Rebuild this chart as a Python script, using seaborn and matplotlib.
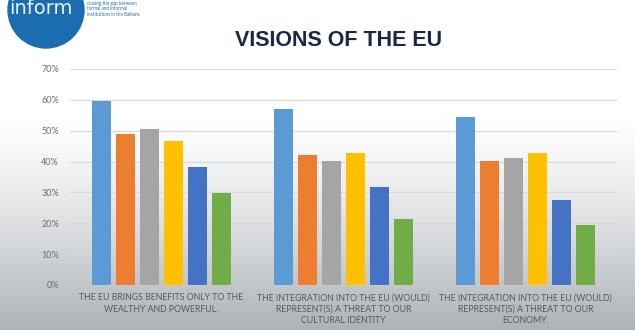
import numpy as np
import pandas as pd
import matplotlib
matplotlib.use("Agg")
import matplotlib.pyplot as plt
from matplotlib.patches import Circle
from matplotlib.ticker import PercentFormatter
import seaborn as sns

# Statements (x categories)
statements = [
    "THE EU BRINGS BENEFITS ONLY TO THE\nWEALTHY AND POWERFUL.",
    "THE INTEGRATION INTO THE EU (WOULD)\nREPRESENT(S) A THREAT TO OUR\nCULTURAL IDENTITY",
    "THE INTEGRATION INTO THE EU (WOULD)\nREPRESENT(S) A THREAT TO OUR\nECONOMY.",
]

# Share agreeing, per country
albania = [0.595, 0.570, 0.545]
bosnia = [0.490, 0.421, 0.402]
kosovo = [0.507, 0.402, 0.410]
macedonia = [0.468, 0.427, 0.427]
montenegro = [0.383, 0.319, 0.274]
serbia = [0.299, 0.215, 0.195]

countries = ["Albania", "Bosnia and Herzegovina", "Kosovo",
             "Macedonia", "Montenegro", "Serbia"]
series = [albania, bosnia, kosovo, macedonia, montenegro, serbia]
colors = ["#5B9BD5", "#ED7D31", "#A5A5A5", "#FFC000", "#4472C4", "#70AD47"]

yticks = [0, 0.1, 0.2, 0.3, 0.4, 0.5, 0.6, 0.7]

df = pd.DataFrame({
    "statement": [s for _ in countries for s in statements],
    "country": [c for c in countries for _ in statements],
    "share": [v for vals in series for v in vals],
})

sns.set_theme(style="white")
plt.rcParams["font.family"] = ["Lato", "DejaVu Sans"]

W, H = 635, 330
fig = plt.figure(figsize=(W / 100, H / 100), dpi=100)

# Slide background in pixel units: white fading to grey toward the bottom
bg = fig.add_axes([0, 0, 1, 1], zorder=-10)
rows = np.linspace(0, 1, 200)
shade = np.clip((rows - 0.35) / 0.65, 0, 1) ** 1.3
top = np.array([1.0, 1.0, 1.0])
bottom = np.array([0.68, 0.70, 0.72])
grad = top[None, :] * (1 - shade[:, None]) + bottom[None, :] * shade[:, None]
grad = np.repeat(grad[:, None, :], 2, axis=1)
bg.imshow(grad, aspect="auto", extent=[0, W, H, 0])
bg.set_xlim(0, W)
bg.set_ylim(H, 0)
bg.axis("off")

# Logo
bg.add_patch(Circle((46, 10), 38, color="#1c6db0", clip_on=True))
bg.text(9, 9, "inform", color="#e8f2fb", fontsize=14,
        family="DejaVu Sans", va="center", ha="left")
bg.text(87, 9,
        "closing the gap between\nformal and informal\ninstitutions in the Balkans",
        color="#2a6fb3", fontsize=3.3, va="center", ha="left", linespacing=1.0)

# Title
bg.text(339, 40, "VISIONS OF THE EU", ha="center", va="center",
        fontsize=15.5, fontweight="bold", color="#1b2747",
        family="Liberation Sans")

ax = fig.add_axes([70 / W, 1 - 285 / H, 547 / W, 216 / H])
ax.patch.set_alpha(0)
sns.barplot(data=df, x="statement", y="share", hue="country",
            hue_order=countries, palette=colors, width=0.79, gap=0.2,
            legend=False, saturation=1, linewidth=0, ax=ax, zorder=3)

ax.set_ylim(0, 0.7)
ax.set_yticks(yticks)
ax.yaxis.set_major_formatter(PercentFormatter(1.0, decimals=0))
ax.grid(axis="y", color="#d9d9d9", linewidth=0.8, zorder=0)
ax.set_axisbelow(True)
for s in ["top", "right", "left"]:
    ax.spines[s].set_visible(False)
ax.spines["bottom"].set_color("#c8c8c8")
ax.spines["bottom"].set_linewidth(0.8)
ax.tick_params(axis="y", length=0, pad=8, labelsize=6.5, labelcolor="#6b6b6b")
ax.tick_params(axis="x", length=0, pad=6, labelsize=6.3, labelcolor="#595959")
for lbl in ax.get_xticklabels():
    lbl.set_linespacing(1.35)
ax.set_xlabel("")
ax.set_ylabel("")
ax.set_xlim(-0.5, 2.5)

fig.savefig("out.png", dpi=100)
